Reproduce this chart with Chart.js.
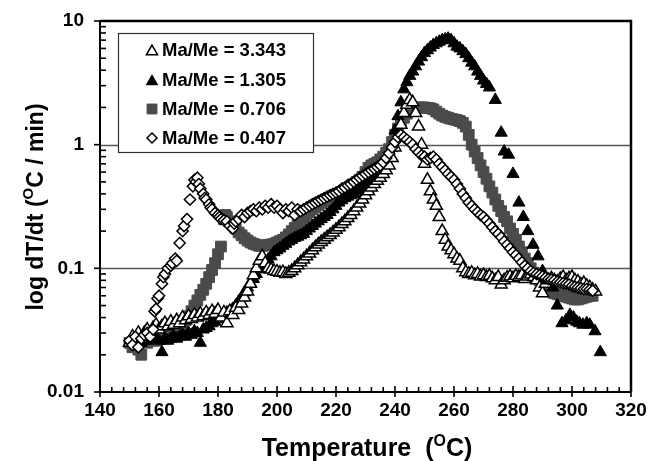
<!DOCTYPE html>
<html>
<head>
<meta charset="utf-8">
<script src="https://cdn.jsdelivr.net/npm/chart.js@4/dist/chart.umd.min.js"></script>
<style>
html,body{margin:0;padding:0;background:#fff;}
#wrap{width:648px;height:461px;}
</style>
</head>
<body>
<div id="wrap"><canvas id="c" width="648" height="461"></canvas></div>
<script>
// ---- data ----
const seriesLabels = ["Ma/Me = 3.343", "Ma/Me = 1.305", "Ma/Me = 0.706", "Ma/Me = 0.407"];
const xTicks = [140, 160, 180, 200, 220, 240, 260, 280, 300, 320];
const yTicks = [0.01, 0.1, 1, 10];

// Ma/Me = 3.343 (open triangles)
const tA = [150,151,152,153,154,155,156,157,158,159,160,161,162,163,164,165,166,167,168,169,170,171,172,173,174,175,176,177,178,179,180,181,182,183,184,185,186,187,188,189,190,191,192,193,194,195,196,197,198,199,200,201,202,203,204,205,206,207,208,209,210,211,212,213,214,215,216,217,218,219,220,221,222,223,224,225,226,227,228,229,230,231,232,233,234,235,236,237,238,239,240,241,242,243,244,245,246,247,248,249,250,251,252,253,254,255,256,257,258,259,260,261,262,263,264,265,266,267,268,269,270,271,272,273,274,275,276,277,278,279,280,281,282,283,284,285,286,287,288,289,290,291,292,293,294,295,296,297,298,299,300,301,302,303,304,305,306,307,308];
const vA = [0.025,0.028,0.026,0.030,0.027,0.030,0.032,0.030,0.033,0.035,0.032,0.034,0.036,0.034,0.037,0.035,0.038,0.036,0.040,0.038,0.041,0.039,0.042,0.040,0.043,0.041,0.044,0.042,0.045,0.043,0.046,0.040,0.044,0.036,0.045,0.042,0.048,0.046,0.052,0.058,0.065,0.075,0.088,0.100,0.115,0.125,0.110,0.100,0.098,0.095,0.094,0.092,0.093,0.090,0.092,0.095,0.100,0.106,0.112,0.118,0.125,0.132,0.140,0.148,0.156,0.163,0.170,0.178,0.186,0.195,0.205,0.215,0.228,0.240,0.255,0.270,0.290,0.310,0.335,0.360,0.390,0.420,0.450,0.480,0.510,0.540,0.580,0.620,0.680,0.780,0.950,1.15,1.45,1.80,2.10,2.30,2.20,1.80,1.40,1.00,0.70,0.52,0.42,0.36,0.32,0.26,0.20,0.17,0.15,0.14,0.13,0.12,0.115,0.100,0.093,0.090,0.092,0.088,0.090,0.086,0.088,0.085,0.087,0.083,0.080,0.085,0.074,0.080,0.084,0.086,0.083,0.087,0.085,0.088,0.082,0.086,0.089,0.085,0.080,0.070,0.063,0.075,0.080,0.083,0.080,0.078,0.082,0.085,0.080,0.083,0.085,0.080,0.078,0.074,0.076,0.072,0.070,0.067,0.065];

// Ma/Me = 1.305 (filled triangles)
const tB = [152,153,154,155,156,157,158,159,160,161,162,163,164,165,166,167,168,169,170,171,172,173,174,175,176,177,178,179,180,181,182,183,184,185,186,187,188,189,190,191,192,193,194,195,196,197,198,199,200,201,202,203,204,205,206,207,208,209,210,211,212,213,214,215,216,217,218,219,220,221,222,223,224,225,226,227,228,229,230,231,232,233,234,235,236,237,238,239,240,241,242,243,244,245,246,247,248,249,250,251,252,253,254,255,256,257,258,259,260,261,262,263,264,265,266,267,268,269,270,271,272,274,276,277,278.5,280,282,283.5,285,286.8,288.5,290,292,293.5,295,296.6,298,299.3,300.5,301.6,302.5,303.7,305,306,307.8,309.6];
const vB = [0.027,0.030,0.025,0.028,0.026,0.029,0.027,0.028,0.026,0.021,0.027,0.026,0.027,0.028,0.027,0.028,0.029,0.028,0.030,0.029,0.031,0.030,0.025,0.032,0.033,0.034,0.036,0.037,0.039,0.041,0.042,0.044,0.045,0.047,0.050,0.054,0.058,0.064,0.070,0.076,0.082,0.090,0.098,0.105,0.110,0.118,0.125,0.135,0.140,0.145,0.152,0.158,0.165,0.170,0.176,0.180,0.185,0.190,0.200,0.210,0.220,0.230,0.240,0.250,0.260,0.270,0.285,0.300,0.320,0.340,0.355,0.370,0.380,0.390,0.400,0.420,0.440,0.460,0.480,0.500,0.520,0.550,0.580,0.620,0.660,0.720,0.800,0.950,1.30,1.70,2.20,2.80,3.20,3.60,3.90,4.30,4.70,5.10,5.50,5.80,6.10,6.40,6.60,6.80,7.00,7.10,7.20,7.00,6.60,6.20,6.00,5.70,5.40,5.00,4.60,4.30,3.90,3.60,3.30,3.10,2.90,2.30,1.25,0.88,0.83,0.58,0.34,0.26,0.20,0.155,0.125,0.095,0.075,0.070,0.050,0.036,0.038,0.042,0.040,0.037,0.036,0.035,0.036,0.035,0.031,0.021];

// Ma/Me = 0.706 (filled squares)
const tC = [150,151,152,153,154,155,156,157,158,159,160,161,162,163,164,165,166,167,168,169,170,171,172,173,174,175,176,177,178,179,180,181,182,182.5,183,184,185,186,187,188,189,190,191,192,193,194,195,196,197,198,199,200,201,202,203,204,205,206,207,208,209,210,211,212,213,214,215,216,217,218,219,220,221,222,223,224,225,226,227,228,229,230,231,232,233,234,235,236,237,238,239,240,241,242,243,244,245,246,247,248,249,250,251,252,253,254,255,256,257,258,259,260,261,262,263,264,265,266,267,268,269,270,271,272,273,274,275,276,277,278,279,280,281,282,283,284,285,286,287,288,289,290,291,292,293,294,295,296,297,298,299,300,301,302,303,304,305,306,307];
const vC = [0.025,0.023,0.026,0.022,0.020,0.027,0.025,0.027,0.026,0.026,0.027,0.028,0.027,0.029,0.030,0.031,0.032,0.034,0.036,0.038,0.041,0.045,0.050,0.055,0.061,0.067,0.075,0.085,0.097,0.110,0.130,0.150,0.250,0.270,0.260,0.240,0.230,0.210,0.195,0.185,0.175,0.168,0.162,0.158,0.155,0.152,0.152,0.153,0.155,0.156,0.158,0.162,0.166,0.170,0.178,0.188,0.200,0.212,0.225,0.240,0.255,0.270,0.285,0.300,0.310,0.325,0.335,0.345,0.355,0.365,0.375,0.390,0.400,0.415,0.430,0.445,0.460,0.480,0.500,0.520,0.550,0.600,0.650,0.680,0.700,0.720,0.760,0.800,0.860,0.920,1.05,1.20,1.35,1.50,1.65,1.78,1.88,1.93,1.97,2.00,2.00,2.00,1.98,1.97,1.93,1.85,1.78,1.72,1.68,1.65,1.62,1.60,1.58,1.55,1.50,1.40,1.20,1.00,0.88,0.78,0.68,0.60,0.53,0.46,0.41,0.36,0.32,0.29,0.26,0.24,0.21,0.19,0.17,0.15,0.135,0.120,0.110,0.100,0.092,0.086,0.080,0.075,0.070,0.067,0.065,0.063,0.062,0.061,0.060,0.059,0.058,0.057,0.056,0.056,0.057,0.058,0.059,0.060,0.060];

// Ma/Me = 0.407 (open diamonds)
const tD = [150,151,152,153,154,155,156,157,158,158.5,159,159.5,160,161,161.5,162,163,164,164.5,165.5,166,167,168,168.5,169.5,170.5,171.5,172,172.5,173,173.5,174,175,175.5,176,177,177.5,178,179,180,180.5,181,182,183,184,185,185.5,186,187,188,189,190,191,192,193,194,195,196,197,198,199,200,201,202,203,204,205,206,207,208,209,210,211,212,213,214,215,216,217,218,219,220,221,222,223,224,225,226,227,228,229,230,231,232,233,234,235,236,237,238,239,240,241,242,243,244,245,246,247,248,249,250,251,252,253,254,255,256,257,258,259,260,261,262,263,264,265,266,267,268,269,270,271,272,273,274,275,276,277,278,279,280,281,282,283,284,285,286,287,288,289,290,291,292,293,294,295,296,297,298,299,300,301,302,303,304,305,306,307];
const vD = [0.026,0.024,0.028,0.023,0.027,0.029,0.030,0.028,0.032,0.045,0.047,0.057,0.060,0.075,0.085,0.090,0.100,0.105,0.110,0.120,0.115,0.160,0.200,0.220,0.250,0.360,0.460,0.520,0.500,0.540,0.480,0.440,0.400,0.370,0.360,0.330,0.310,0.300,0.280,0.270,0.260,0.250,0.245,0.240,0.220,0.210,0.230,0.240,0.250,0.270,0.260,0.280,0.290,0.300,0.290,0.310,0.300,0.320,0.310,0.330,0.310,0.320,0.300,0.280,0.300,0.290,0.310,0.270,0.300,0.290,0.300,0.310,0.320,0.330,0.340,0.350,0.360,0.370,0.380,0.390,0.400,0.410,0.420,0.440,0.450,0.470,0.480,0.500,0.520,0.540,0.560,0.580,0.600,0.620,0.640,0.660,0.680,0.720,0.780,0.850,0.950,1.05,1.15,1.20,1.15,1.10,1.05,1.00,0.92,0.87,0.82,0.80,0.76,0.78,0.80,0.76,0.70,0.66,0.62,0.58,0.55,0.52,0.48,0.44,0.40,0.37,0.34,0.32,0.30,0.285,0.270,0.260,0.245,0.230,0.215,0.200,0.190,0.178,0.165,0.155,0.145,0.135,0.128,0.120,0.112,0.105,0.100,0.095,0.092,0.090,0.088,0.086,0.084,0.082,0.081,0.080,0.078,0.077,0.076,0.075,0.074,0.072,0.071,0.070,0.069,0.068,0.068,0.067,0.066];

// ---- build chart ----
const FONT = "'Liberation Sans', Arial, Helvetica, sans-serif";
function pts(t, v) { return t.map((x, i) => ({ x: x, y: v[i] })); }

const styles = [
  { pointStyle: 'triangle', radius: 7, bg: '#ffffff', border: '#000000', bw: 1.5 },
  { pointStyle: 'triangle', radius: 7, bg: '#000000', border: '#000000', bw: 1 },
  { pointStyle: 'rect', radius: 7.6, bg: '#4b4b4b', border: '#4b4b4b', bw: 1 },
  { pointStyle: 'rectRot', radius: 5.6, bg: '#ffffff', border: '#000000', bw: 1.5 }
];
const dataArr = [pts(tA, vA), pts(tB, vB), pts(tC, vC), pts(tD, vD)];
const orders = [1, 2, 3, 0];

const datasets = dataArr.map((d, i) => ({
  label: seriesLabels[i],
  data: d,
  showLine: false,
  order: orders[i],
  pointStyle: styles[i].pointStyle,
  pointRadius: styles[i].radius,
  pointHoverRadius: styles[i].radius,
  pointBackgroundColor: styles[i].bg,
  pointBorderColor: styles[i].border,
  pointBorderWidth: styles[i].bw
}));

function drawMarker(ctx, s, x, y) {
  ctx.save();
  ctx.fillStyle = s.bg; ctx.strokeStyle = s.border; ctx.lineWidth = s.bw;
  ctx.beginPath();
  const r = s.radius;
  if (s.pointStyle === 'triangle') {
    const w = r * Math.sqrt(3) / 2;
    ctx.moveTo(x, y - r); ctx.lineTo(x + w, y + r / 2); ctx.lineTo(x - w, y + r / 2); ctx.closePath();
  } else if (s.pointStyle === 'rect') {
    const h = r * Math.SQRT1_2; ctx.rect(x - h, y - h, 2 * h, 2 * h);
  } else {
    ctx.moveTo(x, y - r); ctx.lineTo(x + r, y); ctx.lineTo(x, y + r); ctx.lineTo(x - r, y); ctx.closePath();
  }
  ctx.fill(); ctx.stroke();
  ctx.restore();
}

function supText(ctx, parts, cx, cy, big, small) {
  let total = 0;
  parts.forEach(p => { ctx.font = 'bold ' + (p[1] ? small : big) + 'px ' + FONT; total += ctx.measureText(p[0]).width; });
  let x = cx - total / 2;
  ctx.textBaseline = 'alphabetic'; ctx.textAlign = 'left';
  parts.forEach(p => {
    ctx.font = 'bold ' + (p[1] ? small : big) + 'px ' + FONT;
    ctx.fillText(p[0], x, p[1] ? cy - big * 0.42 : cy);
    x += ctx.measureText(p[0]).width;
  });
}

const decor = {
  id: 'decor',
  beforeDatasetsDraw(chart) {
    const { ctx, chartArea: a, scales: { y } } = chart;
    ctx.save();
    ctx.strokeStyle = '#555555'; ctx.lineWidth = 1.4;
    [0.1, 1].forEach(v => {
      const py = Math.round(y.getPixelForValue(v)) + 0.5;
      ctx.beginPath(); ctx.moveTo(a.left, py); ctx.lineTo(a.right, py); ctx.stroke();
    });
    ctx.restore();
  },
  afterDatasetsDraw(chart) {
    const { ctx, chartArea: a, scales: { x, y } } = chart;
    ctx.save();
    ctx.strokeStyle = '#000'; ctx.lineCap = 'butt';
    ctx.lineWidth = 2.5;
    ctx.beginPath(); ctx.moveTo(a.left, a.top); ctx.lineTo(a.right, a.top); ctx.lineTo(a.right, a.bottom); ctx.stroke();
    ctx.lineWidth = 2;
    ctx.beginPath(); ctx.moveTo(a.left, a.top - 1); ctx.lineTo(a.left, a.bottom); ctx.lineTo(a.right, a.bottom); ctx.stroke();
    ctx.lineWidth = 1.6;
    for (let e = -2; e <= 0; e++) {
      for (let m = 1; m <= 9; m++) {
        const v = m * Math.pow(10, e);
        const py = y.getPixelForValue(v);
        ctx.beginPath();
        if (m === 1) { ctx.moveTo(a.left - 6, py); ctx.lineTo(a.left, py); }
        else { ctx.moveTo(a.left, py); ctx.lineTo(a.left + 6, py); }
        ctx.stroke();
      }
    }
    const p10 = y.getPixelForValue(10);
    ctx.beginPath(); ctx.moveTo(a.left - 6, p10); ctx.lineTo(a.left, p10); ctx.stroke();
    for (let t = 140; t <= 320; t += 4) {
      const px = x.getPixelForValue(t);
      ctx.beginPath();
      if ((t - 140) % 20 === 0) { ctx.moveTo(px, a.bottom - 6); ctx.lineTo(px, a.bottom + 5); }
      else { ctx.moveTo(px, a.bottom - 5); ctx.lineTo(px, a.bottom); }
      ctx.stroke();
    }
    ctx.restore();
  },
  afterDraw(chart) {
    const { ctx } = chart;
    ctx.save();
    ctx.fillStyle = '#fff'; ctx.strokeStyle = '#333'; ctx.lineWidth = 1.2;
    ctx.fillRect(118, 33, 195, 119);
    ctx.strokeRect(118.5, 33.5, 195, 119);
    const ys = [50, 80, 109, 138];
    seriesLabels.forEach((lab, i) => {
      const s = Object.assign({}, styles[i]);
      if (i === 3) s.radius = 5;
      if (i < 2) s.radius = 6.5;
      if (i === 2) s.radius = 7;
      drawMarker(ctx, s, 152, ys[i] + (s.pointStyle === 'triangle' ? 1.5 : 0));
      ctx.fillStyle = '#000';
      ctx.font = 'bold 18.5px ' + FONT;
      ctx.textAlign = 'left'; ctx.textBaseline = 'middle';
      ctx.fillText(lab, 162, ys[i] + 1);
    });
    ctx.fillStyle = '#000';
    supText(ctx, [['Temperature  (', false], ['O', true], ['C)', false]], 367, 456, 25, 16);
    ctx.translate(43, 207);
    ctx.rotate(-Math.PI / 2);
    supText(ctx, [['log dT/dt (', false], ['O', true], ['C / min)', false]], 0, 0, 23, 15);
    ctx.restore();
  }
};

new Chart(document.getElementById('c'), {
  type: 'scatter',
  data: { datasets: datasets },
  options: {
    responsive: false,
    animation: false,
    events: [],
    layout: { padding: { top: 21, right: 17, left: 0, bottom: 0 } },
    plugins: { legend: { display: false }, tooltip: { enabled: false } },
    scales: {
      x: {
        type: 'linear', min: 140, max: 320,
        afterBuildTicks: s => { s.ticks = xTicks.map(v => ({ value: v })); },
        afterFit: s => { s.height = 69; s.paddingLeft = 0; s.paddingRight = 0; },
        grid: { display: false, drawTicks: false },
        border: { display: false },
        ticks: { color: '#000', font: { family: FONT, size: 19, weight: 'bold' }, padding: 7, maxRotation: 0, autoSkip: false }
      },
      y: {
        type: 'logarithmic', min: 0.01, max: 10,
        afterBuildTicks: s => { s.ticks = yTicks.map(v => ({ value: v, major: true })); },
        afterFit: s => { s.width = 100; s.paddingTop = 0; s.paddingBottom = 0; },
        grid: { display: false, drawTicks: false },
        border: { display: false },
        ticks: {
          color: '#000', font: { family: FONT, size: 19, weight: 'bold' }, padding: 16, autoSkip: false,
          callback: v => (v === 10 ? '10' : v === 1 ? '1' : v === 0.1 ? '0.1' : v === 0.01 ? '0.01' : '')
        }
      }
    }
  },
  plugins: [decor]
});
</script>
</body>
</html>
